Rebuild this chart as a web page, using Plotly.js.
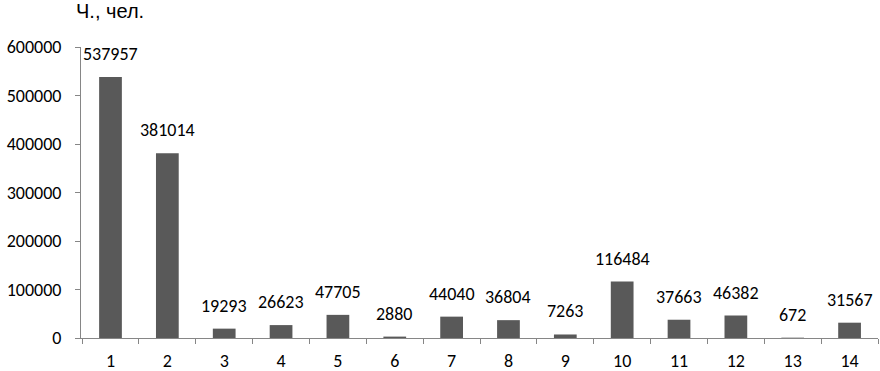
<!DOCTYPE html>
<html><head><meta charset="utf-8">
<script src="https://cdn.plot.ly/plotly-3.0.1.min.js"></script>
<style>body{margin:0;padding:0;background:#fff}#chart{width:880px;height:371px}</style>
</head><body><div id="chart"></div>
<script>
const categories = ["1","2","3","4","5","6","7","8","9","10","11","12","13","14"];
const values = [537957,381014,19293,26623,47705,2880,44040,36804,7263,116484,37663,46382,672,31567];
const yTicks = [0,100000,200000,300000,400000,500000,600000];
const yTitle = "Ч., чел.";

const font = "Carlito, Calibri, Lato, 'Open Sans', sans-serif";
const annotations = categories.map((c,i)=>({
  x:i, y:values[i], xref:"x", yref:"y", text:String(values[i]),
  showarrow:false, yanchor:"bottom", yshift:10,
  font:{family:font, size:18, color:"#000"}
}));
annotations.push({x:(74-81)/797, y:1.0, xref:"paper", yref:"paper", xanchor:"left", yanchor:"bottom",
  yshift:23, text:yTitle, showarrow:false,
  font:{family:"'Liberation Sans Narrow','Liberation Sans', Arial, sans-serif", size:20, color:"#000"}});

Plotly.newPlot("chart",[{
  type:"bar", x:categories, y:values,
  marker:{color:"#595959"}, hoverinfo:"none"
}],{
  width:880, height:371,
  margin:{l:81,r:2,t:47,b:33},
  paper_bgcolor:"#fff", plot_bgcolor:"#fff",
  bargap:0.6, showlegend:false,
  xaxis:{type:"category", showline:true, linecolor:"#868686", linewidth:1,
    ticks:"outside", tickson:"boundaries", ticklen:5, tickcolor:"#868686",
    showgrid:false, zeroline:false, tickfont:{family:font,size:18,color:"#000"},
    ticklabelstandoff:6},
  yaxis:{range:[0,600000], tickvals:yTicks, ticktext:yTicks.map(String),
    showline:true, linecolor:"#868686", linewidth:1,
    ticks:"outside", ticklen:5, tickcolor:"#868686", showgrid:false, zeroline:false,
    tickfont:{family:font,size:18,color:"#000"}, ticklabelstandoff:10},
  annotations:annotations
},{staticPlot:true});
</script></body></html>
